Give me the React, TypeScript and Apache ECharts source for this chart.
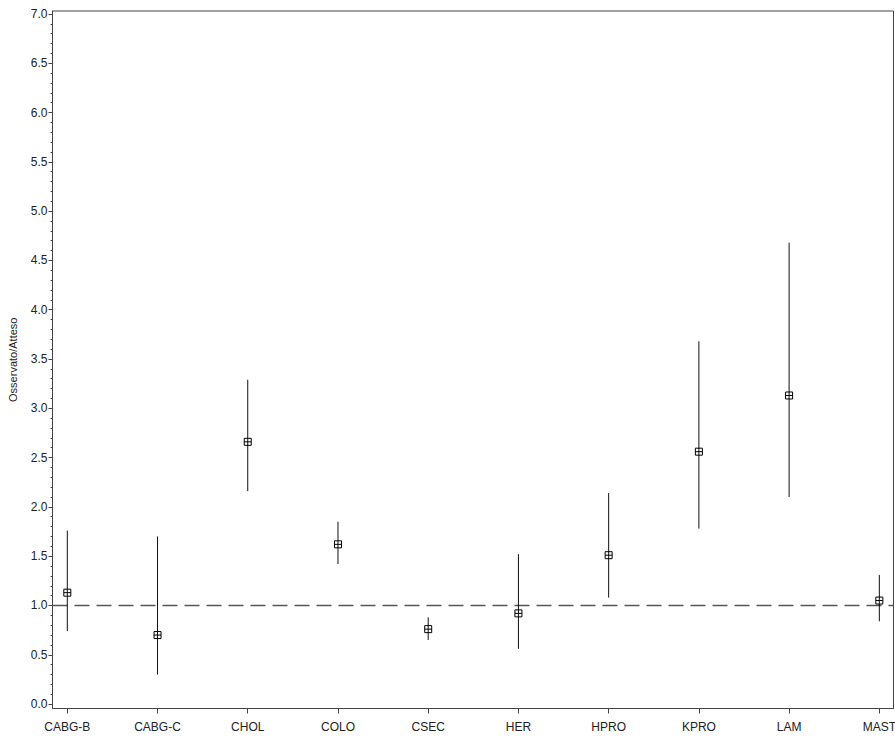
import React, { useEffect, useRef } from "react";
import * as echarts from "echarts";

// Procedure categories along the x axis
const categories = ["CABG-B", "CABG-C", "CHOL", "COLO", "CSEC", "HER", "HPRO", "KPRO", "LAM", "MAST"];

// Observed/expected ratio and its confidence interval per procedure
const estimates = [1.13, 0.7, 2.66, 1.62, 0.76, 0.92, 1.51, 2.56, 3.13, 1.05];
const lowerBounds = [0.74, 0.3, 2.16, 1.42, 0.65, 0.56, 1.08, 1.78, 2.1, 0.84];
const upperBounds = [1.76, 1.7, 3.29, 1.85, 0.88, 1.52, 2.14, 3.68, 4.68, 1.31];

// Y axis ticks
const yMajorTicks = [0, 0.5, 1, 1.5, 2, 2.5, 3, 3.5, 4, 4.5, 5, 5.5, 6, 6.5, 7];
const yMinorTicks = [
  0.1, 0.2, 0.3, 0.4, 0.6, 0.7, 0.8, 0.9, 1.1, 1.2, 1.3, 1.4, 1.6, 1.7, 1.8, 1.9,
  2.1, 2.2, 2.3, 2.4, 2.6, 2.7, 2.8, 2.9, 3.1, 3.2, 3.3, 3.4, 3.6, 3.7, 3.8, 3.9,
  4.1, 4.2, 4.3, 4.4, 4.6, 4.7, 4.8, 4.9, 5.1, 5.2, 5.3, 5.4, 5.6, 5.7, 5.8, 5.9,
  6.1, 6.2, 6.3, 6.4, 6.6, 6.7, 6.8, 6.9,
];

// Reference ratio (observed equals expected)
const referenceValue = 1.0;

const X_MIN = -0.164;
const X_MAX = 9.157;
const Y_MIN = -0.045;
const Y_MAX = 7.03;

const FONT = "'Liberation Sans', Arial, Helvetica, sans-serif";
const TEXT_COLOR = "#222";
const AXIS_COLOR = "#444";

export default function App() {
  const ref = useRef<HTMLDivElement>(null);

  useEffect(() => {
    if (!ref.current) return;
    const chart = echarts.init(ref.current, null, { renderer: "svg" });

    const intervalData = categories.map((_, i) => [i, lowerBounds[i], estimates[i], upperBounds[i]]);
    const xIndices = categories.map((_, i) => i);

    const option: any = {
      animation: false,
      backgroundColor: "#fff",
      grid: {
        left: 52.5,
        right: 1.5,
        top: 11,
        bottom: 28.5,
        outerBoundsMode: "none",
        containLabel: false,
        show: true,
        borderColor: AXIS_COLOR,
        borderWidth: 1,
        backgroundColor: "transparent",
      },
      xAxis: {
        type: "value",
        min: X_MIN,
        max: X_MAX,
        splitLine: { show: false },
        axisLine: { show: true, onZero: false, lineStyle: { color: AXIS_COLOR, width: 1 } },
        axisTick: {
          show: true,
          customValues: xIndices,
          length: 5,
          lineStyle: { color: AXIS_COLOR, width: 1 },
        },
        axisLabel: {
          customValues: xIndices,
          margin: 12,
          color: TEXT_COLOR,
          fontFamily: FONT,
          fontSize: 12,
          hideOverlap: false,
          formatter: (v: number) => categories[Math.round(v)] ?? "",
        },
      },
      yAxis: [
        {
          type: "value",
          min: Y_MIN,
          max: Y_MAX,
          name: "Osservato/Atteso",
          nameLocation: "middle",
          nameGap: 34,
          nameTextStyle: { color: TEXT_COLOR, fontFamily: FONT, fontSize: 11 },
          splitLine: { show: false },
          axisLine: { show: true, onZero: false, lineStyle: { color: AXIS_COLOR, width: 1 } },
          axisTick: {
            show: true,
            customValues: yMajorTicks,
            length: 4,
            lineStyle: { color: AXIS_COLOR, width: 1 },
          },
          axisLabel: {
            customValues: yMajorTicks,
            margin: 5,
            color: TEXT_COLOR,
            fontFamily: FONT,
            fontSize: 12,
            formatter: (v: number) => v.toFixed(1),
          },
        },
        {
          type: "value",
          min: Y_MIN,
          max: Y_MAX,
          position: "left",
          splitLine: { show: false },
          axisLine: { show: false, onZero: false },
          axisTick: {
            show: true,
            customValues: yMinorTicks,
            length: 2,
            lineStyle: { color: AXIS_COLOR, width: 1 },
          },
          axisLabel: { show: false },
        },
      ],
      series: [
        {
          type: "line",
          data: [
            [X_MIN, referenceValue],
            [X_MAX, referenceValue],
          ],
          symbol: "none",
          silent: true,
          lineStyle: { color: "#555", width: 1.5, type: [15, 7] },
          z: 1,
        },
        {
          type: "custom",
          data: intervalData,
          z: 2,
          renderItem: (_params: any, api: any) => {
            const x = api.value(0);
            const pLo = api.coord([x, api.value(1)]);
            const pEst = api.coord([x, api.value(2)]);
            const pHi = api.coord([x, api.value(3)]);
            const s = 3.5;
            return {
              type: "group",
              children: [
                {
                  type: "line",
                  shape: { x1: pLo[0], y1: pLo[1], x2: pHi[0], y2: pHi[1] },
                  style: { stroke: "#111", lineWidth: 1 },
                },
                {
                  type: "rect",
                  shape: { x: pEst[0] - s, y: pEst[1] - s, width: 2 * s, height: 2 * s },
                  style: { fill: "transparent", stroke: "#000", lineWidth: 1 },
                },
                {
                  type: "line",
                  shape: { x1: pEst[0] - s, y1: pEst[1], x2: pEst[0] + s, y2: pEst[1] },
                  style: { stroke: "#000", lineWidth: 1 },
                },
              ],
            };
          },
        },
      ],
    };

    chart.setOption(option);
    return () => chart.dispose();
  }, []);

  return (
    <div
      ref={ref}
      style={{ position: "fixed", left: 0, top: 0, width: 895, height: 737, background: "#fff" }}
    />
  );
}
